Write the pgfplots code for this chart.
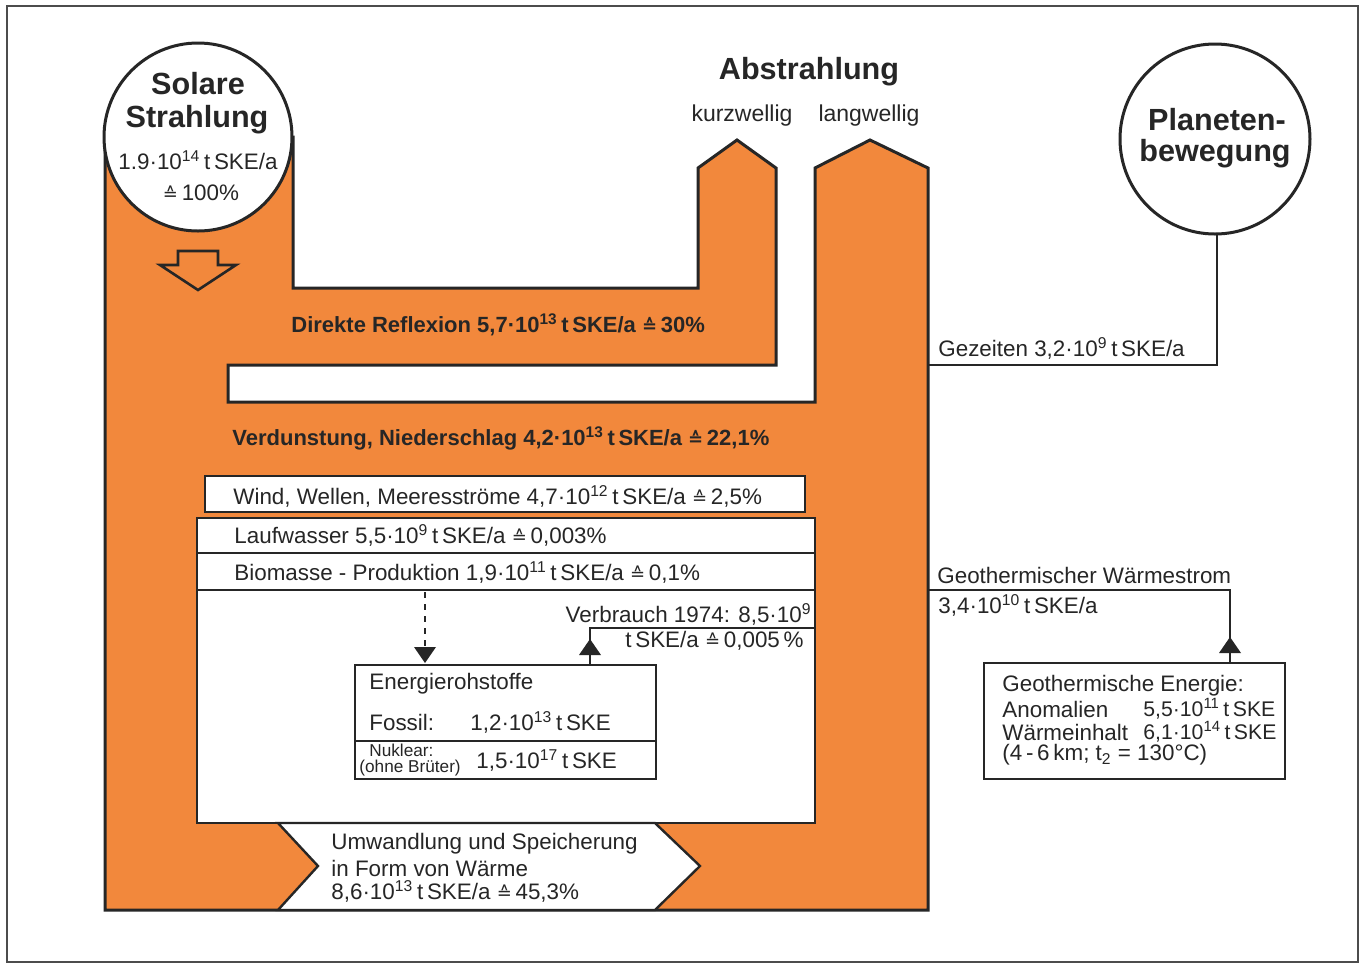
\documentclass[border=0pt]{standalone}
\usepackage{fontspec}
\setmainfont{Liberation Sans}
\newfontfamily\sym{DejaVu Sans}
\usepackage{pgfplots}
\pgfplotsset{compat=1.18}
\definecolor{flow}{RGB}{242,136,60}
\definecolor{ink}{RGB}{38,38,38}
\newcommand{\eq}{{\sym\fontsize{9}{9}\selectfont ≙}}
\newcommand{\tn}[1]{10\textsuperscript{#1}}
\tikzset{
  txt/.style={inner sep=0pt, text=ink, font=\fontsize{11.2}{13}\selectfont},
  btxt/.style={inner sep=0pt, text=ink, font=\bfseries\fontsize{11}{13}\selectfont},
  head/.style={inner sep=0pt, text=ink, font=\bfseries\fontsize{15.3}{18}\selectfont},
  box/.style={fill=white, draw=ink, line width=1.2pt},
}
\begin{document}
\begin{tikzpicture}
\begin{axis}[hide axis, scale only axis, width=683.5pt, height=482.5pt,
  xmin=0, xmax=1367, ymin=0, ymax=965, y dir=reverse, clip=false]
% background and frame
\addplot[fill=white, draw=none] coordinates {(0,0)(1367,0)(1367,965)(0,965)} -- cycle;
\addplot[draw=gray!60!black, line width=1pt] coordinates {(7,6)(1358,6)(1358,962)(7,962)} -- cycle;
% main orange flow
\addplot[fill=flow, draw=ink, line width=1.5pt] coordinates {
  (105,137)(105,910)(928,910)(928,168)(870,140)(815,168)(815,402)(228,402)(228,365)
  (776,365)(776,168)(737,140)(698,168)(698,288)(293,288)(293,137)} -- cycle;
% hollow arrow
\addplot[draw=ink, line width=1.3pt] coordinates {
  (178,251)(218,251)(218,265)(236,265)(198,290)(160,265)(178,265)} -- cycle;
% white boxes
\addplot[box] coordinates {(205,476)(805,476)(805,512)(205,512)} -- cycle;
\addplot[box] coordinates {(197,518)(815,518)(815,823)(197,823)} -- cycle;
\addplot[ink, line width=1.2pt] coordinates {(197,553)(815,553)};
\addplot[ink, line width=1.2pt] coordinates {(197,590)(815,590)};
\addplot[box] coordinates {(278,823)(655,823)(700,866)(655,910)(278,910)(318,866)} -- cycle;
% Energierohstoffe
\addplot[box] coordinates {(355,665)(656,665)(656,779)(355,779)} -- cycle;
\addplot[ink, line width=1.2pt] coordinates {(355,741)(656,741)};
\addplot[ink, line width=1.2pt, dashed] coordinates {(425,592)(425,650)};
\addplot[fill=ink, draw=none] coordinates {(425,663)(414,647)(436,647)} -- cycle;
\addplot[ink, line width=1.2pt] coordinates {(590,665)(590,628)(815,628)};
\addplot[fill=ink, draw=none] coordinates {(590,639)(579,655)(601,655)} -- cycle;
% right side
\addplot[ink, line width=1.2pt] coordinates {(928,365)(1217,365)(1217,233)};
\addplot[ink, line width=1.2pt] coordinates {(928,590)(1230,590)(1230,663)};
\addplot[fill=ink, draw=none] coordinates {(1230,637)(1219,653)(1241,653)} -- cycle;
\addplot[box] coordinates {(984,663)(1285,663)(1285,779)(984,779)} -- cycle;
% circles
\draw[fill=white, draw=ink, line width=1.5pt] (axis cs:198,137) circle[radius=47pt];
\draw[fill=white, draw=ink, line width=1.5pt] (axis cs:1215,139) circle[radius=47.5pt];
% texts
\node[head] at (axis cs:198,84) {Solare};
\node[head] at (axis cs:197,120) {Strahlung};
\node[txt] at (axis cs:198,160) {1.9·\tn{14}\,t\,SKE/a};
\node[txt] at (axis cs:201,193) {\eq\,100\%};
\node[head] at (axis cs:809,72) {Abstrahlung};
\node[txt, font=\fontsize{11.5}{13}\selectfont] at (axis cs:742,116) {kurzwellig};
\node[txt, font=\fontsize{11.5}{13}\selectfont] at (axis cs:869,116) {langwellig};
\node[head] at (axis cs:1217,120) {Planeten-};
\node[head] at (axis cs:1215,154) {bewegung};
\node[btxt, anchor=west] at (axis cs:291,325) {Direkte Reflexion 5,7·\tn{13}\,t\,SKE/a \eq\,30\%};
\node[btxt, anchor=west] at (axis cs:232,438) {Verdunstung, Niederschlag 4,2·\tn{13}\,t\,SKE/a \eq\,22,1\%};
\node[txt, anchor=west] at (axis cs:233,496) {Wind, Wellen, Meeresströme 4,7·\tn{12}\,t\,SKE/a \eq\,2,5\%};
\node[txt, anchor=west] at (axis cs:234,535) {Laufwasser 5,5·\tn{9}\,t\,SKE/a \eq\,0,003\%};
\node[txt, anchor=west] at (axis cs:234,573) {Biomasse - Produktion 1,9·\tn{11}\,t\,SKE/a \eq\,0,1\%};
\node[txt, anchor=east] at (axis cs:812,614) {Verbrauch 1974: 8,5·\tn{9}};
\node[txt, anchor=east] at (axis cs:804,641) {t\,SKE/a \eq\,0,005\,\%};
\node[txt, anchor=west] at (axis cs:369,684) {Energierohstoffe};
\node[txt, anchor=west] at (axis cs:369,722) {Fossil:};
\node[txt, anchor=west] at (axis cs:470,722) {1,2·\tn{13}\,t\,SKE};
\node[txt, anchor=west, font=\fontsize{8.6}{9}\selectfont] at (axis cs:369,750) {Nuklear:};
\node[txt, anchor=west, font=\fontsize{8.6}{9}\selectfont] at (axis cs:359,768) {(ohne Brüter)};
\node[txt, anchor=west] at (axis cs:476,761) {1,5·\tn{17}\,t\,SKE};
\node[txt, anchor=west] at (axis cs:331,844) {Umwandlung und Speicherung};
\node[txt, anchor=west] at (axis cs:331,868) {in Form von Wärme};
\node[txt, anchor=west] at (axis cs:331,891) {8,6·\tn{13}\,t\,SKE/a \eq\,45,3\%};
\node[txt, anchor=west] at (axis cs:938,348) {Gezeiten 3,2·\tn{9}\,t\,SKE/a};
\node[txt, anchor=west] at (axis cs:937,575) {Geothermischer Wärmestrom};
\node[txt, anchor=west] at (axis cs:938,605) {3,4·\tn{10}\,t\,SKE/a};
\node[txt, anchor=west] at (axis cs:1002,686) {Geothermische Energie:};
\node[txt, anchor=west] at (axis cs:1002,709) {Anomalien};
\node[txt, anchor=west, font=\fontsize{10.6}{12}\selectfont] at (axis cs:1143,709) {5,5·\tn{11}\,t\,SKE};
\node[txt, anchor=west] at (axis cs:1002,732) {Wärmeinhalt};
\node[txt, anchor=west, font=\fontsize{10.6}{12}\selectfont] at (axis cs:1143,732) {6,1·\tn{14}\,t\,SKE};
\node[txt, anchor=west] at (axis cs:1002,755) {(4\,-\,6\,km; t\textsubscript{2} = 130°C)};
\end{axis}
\end{tikzpicture}
\end{document}
